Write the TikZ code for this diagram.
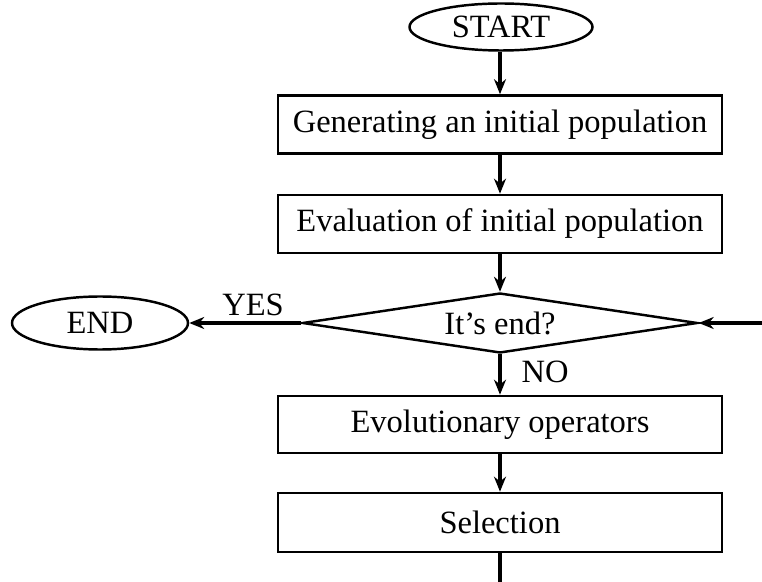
\documentclass[tikz,border=0pt]{standalone}
\usepackage{fontspec}
\setmainfont{Liberation Serif}
\usetikzlibrary{shapes.geometric,arrows.meta}
\begin{document}
\begin{tikzpicture}[
    font=\fontsize{18.5pt}{22pt}\selectfont,
    box/.style={draw,line width=1.5pt,minimum width=8.88cm,minimum height=1.16cm,inner sep=0pt},
    term/.style={draw,ellipse,line width=1.4pt,inner sep=0pt},
    test/.style={draw,diamond,line width=1.4pt,aspect=6.6,inner sep=0pt,minimum width=7.9cm,minimum height=1.2cm},
    flow/.style={line width=2pt,-{Stealth[length=0.3cm,width=0.24cm]}}
  ]
        \useasboundingbox (0,0) rectangle (15.24,-11.64);
        \node[term,minimum width=3.66cm,minimum height=0.94cm] (start) at (10.02,-0.54) {START};
        \node[box] (gen)  at (10.00,-2.49) {Generating an initial population};
        \node[box] (eval) at (10.00,-4.48) {Evaluation of initial population};
        \node[test] (check) at (10.00,-6.46) {It’s end?};
        \node[term,minimum width=3.52cm,minimum height=1.06cm] (stop) at (2.00,-6.46) {END};
        \node[box,minimum height=1.14cm] (oper) at (10.00,-8.49) {Evolutionary operators};
        \node[box,minimum height=1.18cm] (sel)  at (10.00,-10.45) {Selection};
        \coordinate (back) at (15.24,-6.46);
        \coordinate (loop) at (10.00,-11.64);
        \node[] (yes) at (5.06,-6.10) {YES};
        \node[] (no)  at (10.90,-7.44) {NO};

        \draw[flow] (start.south -| gen.north) to (gen);
        \draw[flow] (gen) to (eval);
        \draw[flow] (eval) to (check);
        \draw[flow] (check) to (stop);
        \draw[flow] (check) to (oper);
        \draw[flow] (oper) to (sel);
        \draw[flow] (back) to (check.east);
        \draw[line width=2pt] (sel) to (loop);
      \end{tikzpicture}
\end{document}
